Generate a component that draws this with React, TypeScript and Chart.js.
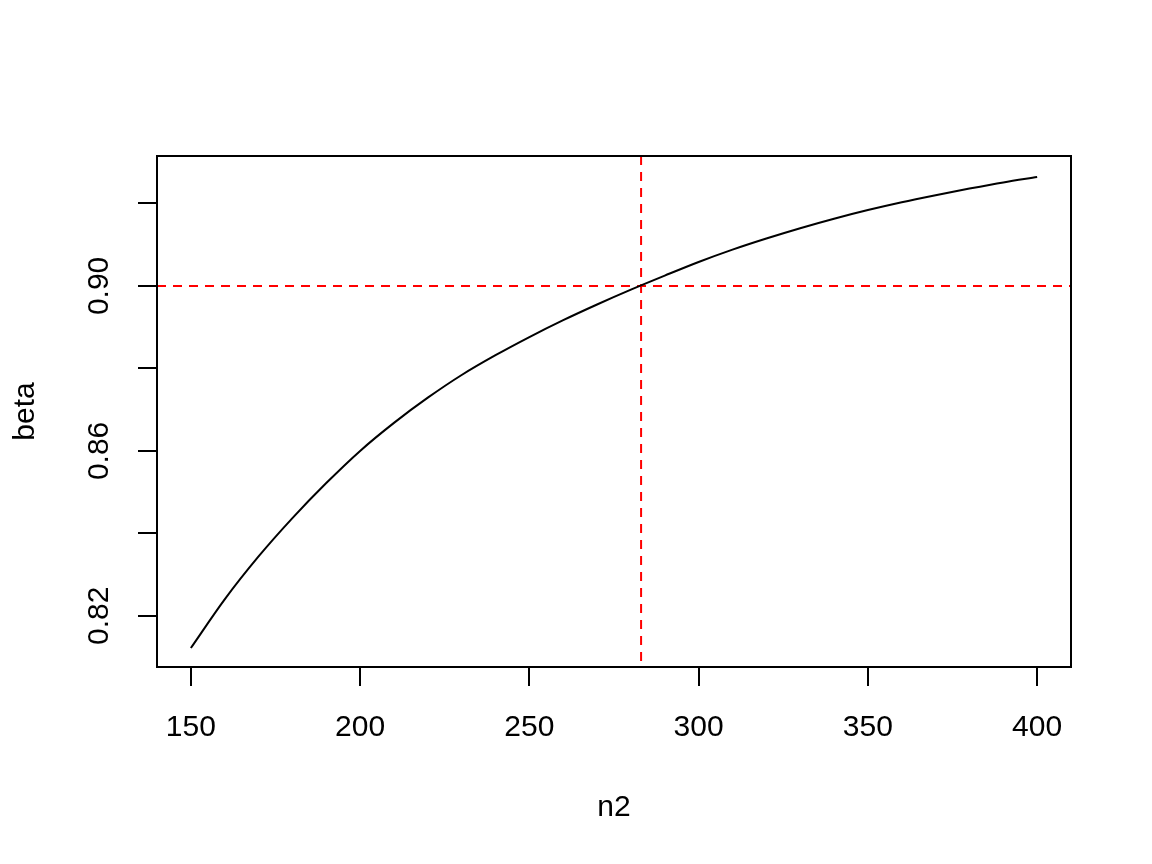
import React, { useEffect, useRef } from 'react';
import { Chart, registerables } from 'chart.js';

Chart.register(...registerables);

// ---- data ----
const n2Values = [150, 160, 170, 180, 190, 200, 210, 220, 230, 240, 250, 260, 270, 280, 290, 300, 310, 320, 330, 340, 350, 360, 370, 380, 390, 400];
const betaValues = [0.8122, 0.824, 0.8344, 0.8437, 0.8522, 0.86, 0.8668, 0.8729, 0.8784, 0.8832, 0.8876, 0.8917, 0.8955, 0.8991, 0.9025, 0.9058, 0.9088, 0.9115, 0.914, 0.9163, 0.9184, 0.9203, 0.922, 0.9236, 0.9251, 0.9264];
const xTicks = [150, 200, 250, 300, 350, 400];
const yTicks = [0.82, 0.84, 0.86, 0.88, 0.9, 0.92];
const yLabeledTicks = ['0.82', '0.86', '0.90'];
const targetBeta = 0.9;
const targetN2 = 283;
const xLimits = [140, 410];
const yLimits = [0.8076, 0.9315];
const xTitle = 'n2';
const yTitle = 'beta';

const FONT = "'Liberation Sans', Arial, sans-serif";

export default function App() {
  const ref = useRef<HTMLCanvasElement | null>(null);

  useEffect(() => {
    if (!ref.current) return;
    const boxPlugin = {
      id: 'boxPlugin',
      afterDatasetsDraw(chart: any) {
        const { ctx, chartArea } = chart;
        ctx.save();
        ctx.strokeStyle = '#000';
        ctx.lineWidth = 2;
        ctx.strokeRect(chartArea.left, chartArea.top, chartArea.right - chartArea.left, chartArea.bottom - chartArea.top);
        ctx.restore();
      },
    };

    const chart = new Chart(ref.current, {
      type: 'line',
      data: {
        datasets: [
          {
            label: 'beta',
            data: n2Values.map((n, i) => ({ x: n, y: betaValues[i] })),
            borderColor: '#000',
            borderWidth: 2,
            pointRadius: 0,
            cubicInterpolationMode: 'monotone',
            fill: false,
          },
          {
            label: 'h',
            data: [
              { x: xLimits[0], y: targetBeta },
              { x: xLimits[1], y: targetBeta },
            ],
            borderColor: '#ff0000',
            borderWidth: 2,
            borderDash: [9, 7],
            pointRadius: 0,
            fill: false,
          },
          {
            label: 'v',
            data: [
              { x: targetN2, y: yLimits[1] },
              { x: targetN2, y: yLimits[0] },
            ],
            borderColor: '#ff0000',
            borderWidth: 2,
            borderDash: [9, 7],
            pointRadius: 0,
            fill: false,
          },
        ],
      },
      options: {
        responsive: false,
        animation: false,
        devicePixelRatio: 1,
        layout: { padding: { top: 156, right: 81, left: 0, bottom: 0 } },
        plugins: { legend: { display: false }, tooltip: { enabled: false } },
        scales: {
          x: {
            type: 'linear',
            min: xLimits[0],
            max: xLimits[1],
            afterBuildTicks: (scale: any) => {
              scale.ticks = xTicks.map((v) => ({ value: v }));
            },
            afterFit: (scale: any) => {
              scale.height = 197;
            },
            grid: { display: true, drawOnChartArea: false, drawTicks: true, tickLength: 19, color: '#000', lineWidth: 2 },
            border: { display: true, color: '#000', width: 2 },
            ticks: {
              autoSkip: false,
              maxRotation: 0,
              minRotation: 0,
              padding: 24,
              color: '#000',
              font: { family: FONT, size: 30 },
              callback: (v: any) => String(v),
            },
            title: {
              display: true,
              text: xTitle,
              color: '#000',
              font: { family: FONT, size: 30 },
              padding: { top: 0, bottom: 38 },
            },
          },
          y: {
            type: 'linear',
            min: yLimits[0],
            max: yLimits[1],
            afterBuildTicks: (scale: any) => {
              scale.ticks = yTicks.map((v) => ({ value: v }));
            },
            afterFit: (scale: any) => {
              scale.width = 157;
            },
            grid: { display: true, drawOnChartArea: false, drawTicks: true, tickLength: 19, color: '#000', lineWidth: 2 },
            border: { display: true, color: '#000', width: 2 },
            ticks: {
              autoSkip: false,
              minRotation: 90,
              maxRotation: 90,
              crossAlign: 'center',
              padding: 9,
              color: '#000',
              font: { family: FONT, size: 30 },
              callback: (v: any) => {
                const s = Number(v).toFixed(2);
                return yLabeledTicks.includes(s) ? s : '';
              },
            },
            title: {
              display: true,
              text: yTitle,
              color: '#000',
              font: { family: FONT, size: 30 },
              padding: { top: 8, bottom: 0 },
            },
          },
        },
      },
      plugins: [boxPlugin],
    } as any);

    return () => chart.destroy();
  }, []);

  return (
    <div style={{ position: 'absolute', left: 0, top: 0, width: 1152, height: 864, background: '#fff' }}>
      <canvas ref={ref} width={1152} height={864} style={{ display: 'block', width: 1152, height: 864 }} />
    </div>
  );
}
